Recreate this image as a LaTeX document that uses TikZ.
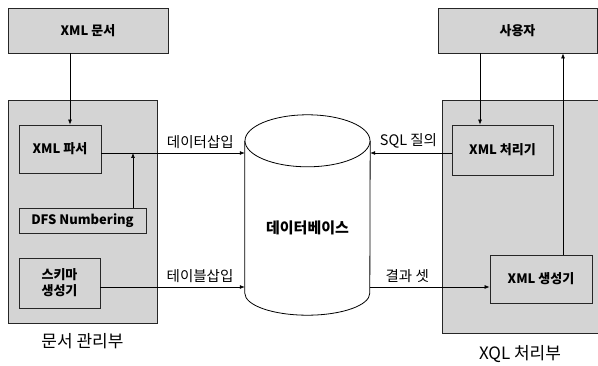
\documentclass[tikz,border=0pt]{standalone}
\usepackage{fontspec}
\setmainfont{Noto Sans CJK KR}
\usetikzlibrary{positioning,arrows.meta}

\tikzset{
  part/.style={draw=black!85, fill=black!17, line width=0.8pt},
  unit/.style={part, align=center, inner sep=0pt, font=\bfseries\fontsize{13}{16}\selectfont},
  flow/.style={-{Latex[length=5pt,width=4pt]}, line width=0.7pt},
  lbl/.style={above=1pt, font=\fontsize{14.5}{16}\selectfont},
  title/.style={font=\fontsize{17}{20}\selectfont},
}

\begin{document}
\begin{tikzpicture}[x=1pt, y=-1pt]
  \useasboundingbox (0,0) rectangle (598,366);

  % outer parts
  \node[part, minimum width=149pt, minimum height=223pt] (mgr) at (82.5,211.5) {};
  \node[part, minimum width=160pt, minimum height=233pt] (xql) at (522,216.5) {};
  \node[title, below=7pt of mgr] (mgrname) {문서 관리부};
  \node[title, below=9pt of xql, xshift=-2pt] (xqlname) {XQL 처리부};

  % units
  \node[unit, minimum width=160pt, minimum height=45pt] (doc) at (88,30.5) {XML 문서};
  \node[unit, minimum width=159pt, minimum height=45pt] (user) at (517.5,30.5) {사용자};
  \node[unit, minimum width=82pt, minimum height=48pt] (parser) at (60,149) {XML 파서};
  \node[unit, minimum width=127pt, minimum height=25pt] (dfs) at (82.5,220.5) {DFS Numbering};
  \node[unit, minimum width=81pt, minimum height=50pt] (schema) at (59.5,283) {스키마\\생성기};
  \node[unit, minimum width=101pt, minimum height=50pt] (proc) at (502.5,150) {XML 처리기};
  \node[unit, minimum width=102pt, minimum height=48pt] (gen) at (541,279) {XML 생성기};

  % database
  \node[minimum width=125pt, minimum height=152pt, inner sep=0pt] (db) at (307.5,217) {};
  \draw[line width=0.8pt, fill=white] (db.north west) -- (db.south west)
    arc[start angle=180, end angle=360, x radius=62.5pt, y radius=22pt] -- (db.north east);
  \draw[line width=0.8pt, fill=white] (db.north) ellipse [x radius=62.5pt, y radius=26pt];
  \node[font=\bfseries\fontsize{15}{18}\selectfont] (dbname) at ([yshift=-11pt]db.center) {데이터베이스};

  % rows and columns
  \coordinate (r1) at (0,153);
  \coordinate (r2) at (0,287);
  \coordinate (c1) at (70,0);
  \coordinate (c2) at (480,0);
  \coordinate (c3) at (563,0);
  \coordinate (j) at (133,153);

  \draw[flow] (doc.south -| c1) -- (parser.north -| c1);
  \draw[flow] (parser.east |- r1) -- (db.west |- r1) node[lbl, pos=0.69] {데이터삽입};
  \draw[flow] (dfs.north -| j) -- (j);
  \draw[flow] (schema.east |- r2) -- (db.west |- r2) node[lbl, pos=0.69] {테이블삽입};
  \draw[flow] (proc.west |- r1) -- (db.east |- r1) node[lbl, pos=0.53] {SQL 질의};
  \draw[flow] (db.east |- r2) -- (gen.west |- r2) node[lbl, pos=0.31] {결과 셋};
  \draw[flow] (user.south -| c2) -- (proc.north -| c2);
  \draw[flow] (gen.north -| c3) -- (user.south -| c3);
\end{tikzpicture}
\end{document}
